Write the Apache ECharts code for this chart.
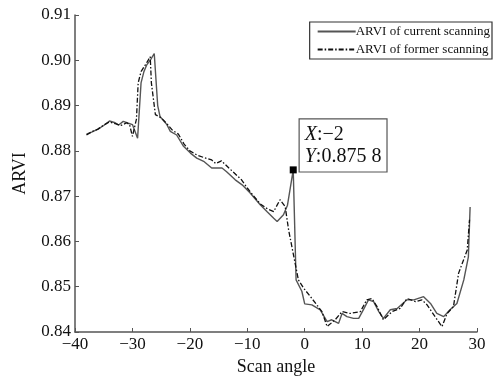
<!DOCTYPE html>
<html>
<head>
<meta charset="utf-8">
<script src="https://cdn.jsdelivr.net/npm/echarts@6/dist/echarts.min.js"></script>
<style>
  html, body { margin: 0; padding: 0; background: #fff; }
  #chart { width: 497px; height: 376px; }
</style>
</head>
<body>
<div id="chart"></div>
<script>
// ARVI of current scanning (solid)
var currentAngle = [-38, -37, -36, -35, -34, -33, -32.4, -31.6, -30.7, -30, -29.1, -28.5, -28, -27.5, -26.8, -26.2,
    -25.6, -25.2, -24, -23.4, -22.3, -21.1, -19.9, -18.8, -17.5, -16.2, -14.4, -13.6, -12.1, -10.9, -9.5, -7.75,
    -6.5, -5.4, -4.8, -3.7, -3, -2, -1.5, -0.5, 0, 1.25, 2.7, 3.9, 4.7, 5.9, 6.5, 7.35, 8.5, 9.4, 10.2, 11.1, 12,
    12.9, 13.7, 14.9, 16.1, 17.8, 19, 20.7, 21.9, 23, 24.2, 25.3, 26.5, 27.7, 28.5, 28.8];
var currentARVI = [0.8837, 0.8842, 0.8848, 0.8856, 0.8866, 0.8862, 0.8857, 0.8865, 0.8861, 0.8858, 0.8828, 0.8950,
    0.8975, 0.8990, 0.9002, 0.9015, 0.8900, 0.8876, 0.8858, 0.8843, 0.8835, 0.8810, 0.8795, 0.8784, 0.8776, 0.8762,
    0.8762, 0.8754, 0.8736, 0.8725, 0.8707, 0.8681, 0.8665, 0.8651, 0.8644, 0.8659, 0.8680, 0.8758, 0.8515, 0.8490,
    0.8462, 0.8460, 0.8449, 0.8423, 0.8427, 0.8419, 0.8441, 0.8434, 0.8430, 0.8430, 0.8449, 0.8471, 0.8467, 0.8445,
    0.8430, 0.8449, 0.8452, 0.8471, 0.8471, 0.8478, 0.8463, 0.8441, 0.8434, 0.8449, 0.8463, 0.8515, 0.8566, 0.8676];

// ARVI of former scanning (dash-dot)
var formerAngle = [-38, -37, -36, -35, -34, -33, -32, -31, -30.5, -30, -29.3, -29, -28.5, -28, -27.5, -26.9, -26.7,
    -26, -25, -24, -23, -22, -21, -20, -18.8, -17.5, -16.2, -15.5, -14.5, -13.2, -12.5, -11, -10, -9, -7.75, -6.5,
    -5.4, -4.3, -3.4, -2.8, -1.1, -0.2, 1, 2.1, 3, 3.9, 5.3, 6.5, 7.9, 9.7, 10.8, 11.7, 12.6, 13.7, 15.2, 16.6, 17.8,
    19.3, 20.4, 21.3, 22.7, 23.9, 24.8, 25.9, 26.8, 28.3, 28.7];
var formerARVI = [0.8835, 0.8843, 0.8848, 0.8857, 0.8864, 0.8860, 0.8856, 0.8862, 0.8858, 0.8832, 0.8870, 0.8950,
    0.8975, 0.8985, 0.8995, 0.9008, 0.8950, 0.8880, 0.8873, 0.8860, 0.8845, 0.8837, 0.8815, 0.8800, 0.8791, 0.8785,
    0.8780, 0.8772, 0.8778, 0.8762, 0.8754, 0.8736, 0.8718, 0.8702, 0.8683, 0.8672, 0.8666, 0.8692, 0.8677, 0.8625,
    0.8515, 0.8497, 0.8478, 0.8460, 0.8445, 0.8412, 0.8427, 0.8445, 0.8441, 0.8445, 0.8471, 0.8474, 0.8456, 0.8427,
    0.8445, 0.8452, 0.8474, 0.8467, 0.8471, 0.8460, 0.8434, 0.8412, 0.8441, 0.8456, 0.8530, 0.8581, 0.8648];

var xTicks = [-40, -30, -20, -10, 0, 10, 20, 30];
var yTicks = [0.84, 0.85, 0.86, 0.87, 0.88, 0.89, 0.90, 0.91];
var seriesNames = ['ARVI of current scanning', 'ARVI of former scanning'];
var markAngle = -2, markValue = 0.8758;

function pairs(xs, ys) {
    return xs.map(function (x, i) { return [x, ys[i]]; });
}

var serif = '"Liberation Serif", "DejaVu Serif", serif';
var axisColor = '#555';

var chart = echarts.init(document.getElementById('chart'));
chart.setOption({
    animation: false,
    grid: { left: 75, right: 20, top: 15, bottom: 44, containLabel: false, outerBoundsMode: 'none' },
    legend: {
        orient: 'vertical',
        right: 5,
        top: 22,
        itemWidth: 38,
        itemHeight: 14,
        itemGap: 5,
        padding: [3, 2, 3, 7],
        borderColor: '#333',
        borderWidth: 1.2,
        backgroundColor: '#fff',
        itemStyle: { opacity: 0 },
        textStyle: { fontFamily: serif, fontSize: 13, color: '#111', padding: [0, 0, 0, -5] },
        data: seriesNames
    },
    xAxis: {
        type: 'value',
        min: xTicks[0],
        max: xTicks[xTicks.length - 1],
        interval: 10,
        name: 'Scan angle',
        nameLocation: 'middle',
        nameGap: 24,
        nameTextStyle: { fontFamily: serif, fontSize: 18, color: '#111' },
        axisLine: { onZero: false, lineStyle: { color: axisColor, width: 1.5 } },
        axisTick: { inside: true, length: 4, lineStyle: { color: axisColor } },
        axisLabel: {
            fontFamily: serif, fontSize: 17, color: '#111', margin: 4,
            formatter: function (v) { return v < 0 ? '\u2212' + Math.abs(v) : String(v); }
        },
        splitLine: { show: false }
    },
    yAxis: {
        type: 'value',
        min: yTicks[0],
        max: yTicks[yTicks.length - 1],
        interval: 0.01,
        name: 'ARVI',
        nameLocation: 'middle',
        nameGap: 46,
        nameRotate: 90,
        nameTextStyle: { fontFamily: serif, fontSize: 18, color: '#111' },
        axisLine: { show: true, onZero: false, lineStyle: { color: axisColor, width: 1.5 } },
        axisTick: { show: true, inside: true, length: 4, lineStyle: { color: axisColor } },
        axisLabel: {
            fontFamily: serif, fontSize: 17, color: '#111', margin: 4,
            formatter: function (v) { return v.toFixed(2); }
        },
        splitLine: { show: false }
    },
    series: [
        {
            name: seriesNames[0],
            type: 'line',
            symbol: 'none',
            color: '#555',
            lineStyle: { color: '#555', width: 1.4, type: 'solid' },
            data: pairs(currentAngle, currentARVI),
            markPoint: {
                symbol: 'rect',
                symbolSize: 7,
                itemStyle: { color: '#000' },
                data: [{ coord: [markAngle, markValue] }],
                label: {
                    show: true,
                    position: [10, -47],
                    formatter: '{i|X}:\u22122\n{i|Y}:0.875 8',
                    fontFamily: serif,
                    fontSize: 20,
                    lineHeight: 22,
                    color: '#111',
                    backgroundColor: '#fff',
                    borderColor: '#555',
                    borderWidth: 1.2,
                    padding: [4, 5, 4, 5],
                    rich: {
                        i: { fontFamily: serif, fontSize: 20, lineHeight: 22, fontStyle: 'italic', color: '#111' }
                    }
                }
            }
        },
        {
            name: seriesNames[1],
            type: 'line',
            symbol: 'none',
            color: '#111',
            lineStyle: { color: '#111', width: 1.3, type: [5, 2, 1.5, 2] },
            data: pairs(formerAngle, formerARVI)
        }
    ]
});
</script>
</body>
</html>
